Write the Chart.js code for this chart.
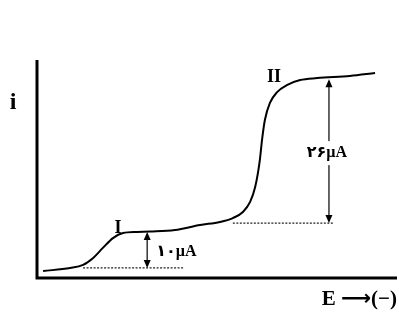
<!DOCTYPE html>
<html>
<head>
<meta charset="utf-8">
<script src="https://cdn.jsdelivr.net/npm/chart.js@4/dist/chart.umd.min.js"></script>
<style>
html,body{margin:0;padding:0;background:#fff;}
#wrap{width:399px;height:316px;position:relative;}
</style>
</head>
<body>
<div id="wrap"><canvas id="c"></canvas></div>
<script>
// Polarogram (arbitrary units: E 0-100, i 0-100)
const curveE = [1.7, 9.2, 12.8, 15.6, 18.3, 21.1, 23.9, 27.8, 31.4, 38.3, 45.3, 50.8, 54.4, 57.2, 59.2, 60.6, 61.9, 62.5, 63.3, 64.7, 66.7, 69.4, 73.1, 77.8, 86.9, 93.9];
const curveI = [3.2, 4.6, 6.0, 9.2, 13.8, 18.3, 20.6, 21.1, 21.3, 22.0, 24.3, 25.7, 27.5, 30.3, 34.9, 41.7, 54.1, 63.3, 72.5, 80.3, 85.3, 88.5, 90.8, 91.7, 92.7, 94.0];
const base1E = [12.8, 40.6];
const base1I = [4.6, 4.6];
const base2E = [54.4, 82.2];
const base2I = [25.2, 25.2];
const arrowE = [30.6, 81.1];
const arrowTop = [21.1, 91.2];
const arrowBottom = [4.6, 25.2];
const arrowLabels = ['۱۰µA', '۲۶µA'];
const waveLabels = ['I', 'II'];
const waveLabelE = [22.5, 65.8];
const waveLabelI = [22.9, 92.2];
const yTitle = 'i';
const xTitle = 'E ⟶(−)';

const toPts = (xs, ys) => xs.map((x, k) => ({x: x, y: ys[k]}));

const overlay = {
  id: 'overlay',
  afterDraw(chart) {
    const {ctx, chartArea: a, scales: {x, y}} = chart;
    ctx.save();
    // axes
    ctx.strokeStyle = '#000';
    ctx.lineWidth = 3;
    ctx.lineCap = 'butt';
    ctx.beginPath();
    ctx.moveTo(a.left, a.top);
    ctx.lineTo(a.left, a.bottom);
    ctx.lineTo(a.right, a.bottom);
    ctx.stroke();
    // arrows
    ctx.lineWidth = 1.2;
    ctx.fillStyle = '#000';
    for (let k = 0; k < arrowE.length; k++) {
      const px = x.getPixelForValue(arrowE[k]);
      const t = y.getPixelForValue(arrowTop[k]);
      const b = y.getPixelForValue(arrowBottom[k]);
      ctx.beginPath();
      ctx.moveTo(px, t + 2);
      ctx.lineTo(px, b - 2);
      ctx.stroke();
      ctx.beginPath();
      ctx.moveTo(px, t); ctx.lineTo(px - 3.5, t + 8); ctx.lineTo(px + 3.5, t + 8); ctx.closePath(); ctx.fill();
      ctx.beginPath();
      ctx.moveTo(px, b); ctx.lineTo(px - 3.5, b - 8); ctx.lineTo(px + 3.5, b - 8); ctx.closePath(); ctx.fill();
    }
    // arrow labels
    ctx.direction = 'ltr';
    ctx.font = 'bold 16px "Liberation Serif", "DejaVu Sans", serif';
    ctx.textBaseline = 'middle';
    {
      const px = x.getPixelForValue(arrowE[0]);
      const py = (y.getPixelForValue(arrowTop[0]) + y.getPixelForValue(arrowBottom[0])) / 2;
      ctx.textAlign = 'left';
      ctx.fillText(arrowLabels[0], px + 9, py + 2);
    }
    {
      const px = x.getPixelForValue(arrowE[1]);
      const py = (y.getPixelForValue(arrowTop[1]) + y.getPixelForValue(arrowBottom[1])) / 2 + 2;
      const w = ctx.measureText(arrowLabels[1]).width;
      ctx.fillStyle = '#fff';
      ctx.fillRect(px - w / 2 - 3, py - 12, w + 4, 24);
      ctx.fillStyle = '#000';
      ctx.textAlign = 'center';
      ctx.fillText(arrowLabels[1], px - 2, py);
    }
    // wave labels
    ctx.font = 'bold 18px "Liberation Serif", serif';
    ctx.textAlign = 'center';
    for (let k = 0; k < waveLabels.length; k++) {
      ctx.fillText(waveLabels[k], x.getPixelForValue(waveLabelE[k]), y.getPixelForValue(waveLabelI[k]));
    }
    // axis titles
    ctx.font = 'bold 24px "Liberation Serif", serif';
    ctx.fillText(yTitle, 13, 103);
    ctx.font = 'bold 21px "Liberation Serif", "DejaVu Sans", serif';
    ctx.textAlign = 'right';
    ctx.fillText(xTitle, 397, 300);
    ctx.restore();
  }
};

new Chart(document.getElementById('c'), {
  type: 'line',
  data: {
    datasets: [
      {data: toPts(curveE, curveI), borderColor: '#000', borderWidth: 2, pointRadius: 0, cubicInterpolationMode: 'monotone', fill: false},
      {data: toPts(base1E, base1I), borderColor: '#222', borderWidth: 1.3, borderDash: [2, 1.5], pointRadius: 0, fill: false},
      {data: toPts(base2E, base2I), borderColor: '#222', borderWidth: 1.3, borderDash: [2, 1.5], pointRadius: 0, fill: false}
    ]
  },
  options: {
    responsive: true,
    maintainAspectRatio: false,
    animation: false,
    layout: {padding: {left: 37, top: 60, right: 2, bottom: 38}},
    plugins: {legend: {display: false}, tooltip: {enabled: false}},
    scales: {
      x: {type: 'linear', min: 0, max: 100, display: false},
      y: {type: 'linear', min: 0, max: 100, display: false}
    }
  },
  plugins: [overlay]
});
</script>
</body>
</html>
